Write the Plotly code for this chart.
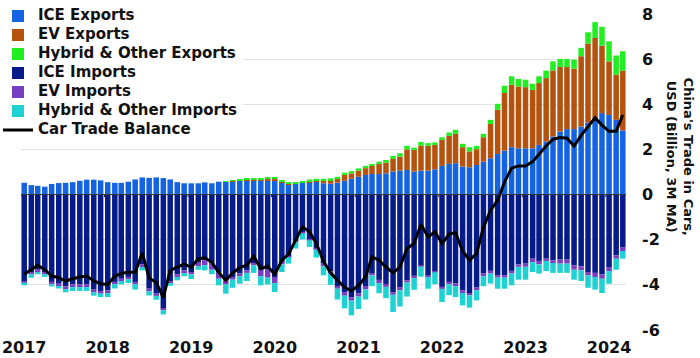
import pandas as pd
import plotly.graph_objects as go

months = [d.strftime("%Y-%m-15") for d in pd.date_range("2017-01-01", "2024-03-01", freq="MS")]

ice_exports = [0.52, 0.42, 0.39, 0.35, 0.47, 0.51, 0.52, 0.55, 0.61, 0.66, 0.66, 0.63,
               0.55, 0.52, 0.52, 0.57, 0.67, 0.76, 0.74, 0.76, 0.73, 0.67, 0.55, 0.50,
               0.50, 0.50, 0.54, 0.50, 0.57, 0.56, 0.60, 0.63, 0.64, 0.64, 0.63, 0.64,
               0.63, 0.54, 0.46, 0.47, 0.52, 0.55, 0.56, 0.50, 0.48, 0.53, 0.61, 0.70,
               0.79, 0.87, 0.91, 0.91, 0.94, 1.02, 1.06, 1.09, 1.02, 1.06, 1.06, 1.12,
               1.27, 1.36, 1.39, 1.24, 1.21, 1.31, 1.46, 1.61, 1.80, 1.95, 2.10, 2.05,
               2.05, 2.05, 2.20, 2.35, 2.57, 2.79, 2.90, 2.90, 3.01, 3.19, 3.39, 3.61,
               3.53, 3.31, 2.84]
ev_exports = [0.0] * 29 + [0.00, 0.01, 0.01, 0.02, 0.02, 0.03, 0.05,
              0.06, 0.05, 0.03, 0.02, 0.03, 0.05, 0.07, 0.12, 0.16, 0.16, 0.26, 0.24,
              0.27, 0.30, 0.36, 0.45, 0.47, 0.56, 0.62, 0.91, 0.96, 1.11, 1.10, 1.08,
              1.15, 1.24, 1.30, 0.86, 0.70, 0.70, 1.08, 1.52, 1.96, 2.55, 2.77, 2.74,
              2.71, 2.59, 2.74, 2.81, 2.93, 2.86, 2.75, 2.68, 3.12, 3.50, 3.55, 2.99,
              2.37, 2.00, 2.65]
hybrid_exports = [0.0] * 29 + [0.01, 0.03, 0.05, 0.06, 0.06, 0.06, 0.06,
                  0.06, 0.05, 0.04, 0.04, 0.05, 0.07, 0.07, 0.08, 0.08, 0.10, 0.10, 0.10,
                  0.10, 0.10, 0.07, 0.10, 0.12, 0.13, 0.15, 0.16, 0.10, 0.16, 0.12, 0.11,
                  0.12, 0.15, 0.18, 0.15, 0.19, 0.15, 0.15, 0.18, 0.26, 0.32, 0.37, 0.33,
                  0.33, 0.27, 0.30, 0.33, 0.40, 0.36, 0.36, 0.40, 0.37, 0.50, 0.70, 0.83,
                  0.89, 0.85, 0.86]
ice_imports = [-3.87, -3.47, -3.33, -3.43, -3.87, -3.95, -4.07, -3.98, -3.98, -3.98, -4.21, -4.27,
               -4.24, -3.87, -3.73, -3.65, -3.87, -3.09, -4.17, -4.39, -5.06, -3.83, -3.53, -3.36,
               -3.43, -2.99, -2.91, -3.06, -3.43, -3.80, -3.65, -3.50, -3.36, -3.03, -3.33, -3.33,
               -3.65, -2.99, -2.75, -2.07, -1.70, -2.00, -2.41, -3.06, -3.40, -4.05, -4.32, -4.55,
               -4.38, -4.05, -3.50, -3.78, -3.96, -4.34, -4.10, -3.80, -3.60, -3.15, -3.60, -3.40,
               -4.09, -3.87, -3.94, -4.24, -4.36, -4.12, -3.50, -3.38, -3.57, -3.57, -3.38, -3.09,
               -3.06, -2.84, -2.94, -2.84, -2.91, -2.88, -2.88, -3.13, -3.18, -3.43, -3.47, -3.53,
               -3.21, -2.69, -2.35]
ev_imports = [-0.03, -0.06, -0.10, -0.10, -0.10, -0.10, -0.12, -0.12, -0.12, -0.12, -0.12, -0.12,
              -0.12, -0.10, -0.10, -0.10, -0.10, -0.12, -0.12, -0.10, -0.07, -0.09, -0.12, -0.12,
              -0.10, -0.19, -0.22, -0.27, -0.30, -0.18, -0.12, -0.12, -0.11, -0.10, -0.29, -0.35,
              -0.27, -0.10, -0.03, -0.02, -0.02, -0.02, -0.03, -0.12, -0.10, -0.12, -0.16, -0.15,
              -0.14, -0.15, -0.08, -0.14, -0.13, -0.10, -0.14, -0.10, -0.10, -0.04, -0.05, -0.04,
              -0.09, -0.10, -0.12, -0.12, -0.10, -0.12, -0.12, -0.12, -0.11, -0.11, -0.12, -0.11,
              -0.14, -0.15, -0.15, -0.10, -0.12, -0.18, -0.18, -0.20, -0.18, -0.15, -0.18, -0.20,
              -0.18, -0.15, -0.15]
hybrid_imports = [-0.12, -0.15, -0.10, -0.12, -0.10, -0.11, -0.14, -0.17, -0.17, -0.17, -0.15, -0.15,
                  -0.18, -0.19, -0.15, -0.17, -0.24, -0.15, -0.18, -0.17, -0.18, -0.12, -0.15, -0.14,
                  -0.21, -0.15, -0.23, -0.20, -0.29, -0.41, -0.36, -0.33, -0.36, -0.34, -0.40, -0.30,
                  -0.40, -0.34, -0.28, -0.30, -0.27, -0.30, -0.35, -0.40, -0.50, -0.48, -0.56, -0.65,
                  -0.55, -0.45, -0.48, -0.45, -0.50, -0.76, -0.72, -0.62, -0.52, -0.45, -0.52, -0.53,
                  -0.58, -0.49, -0.48, -0.55, -0.55, -0.45, -0.44, -0.44, -0.49, -0.49, -0.52, -0.57,
                  -0.57, -0.44, -0.41, -0.45, -0.44, -0.41, -0.41, -0.44, -0.47, -0.55, -0.56, -0.63,
                  -0.56, -0.49, -0.34]
trade_balance = [-3.53, -3.33, -3.13, -3.33, -3.61, -3.68, -3.83, -3.73, -3.65, -3.61, -3.83, -3.95,
                 -3.98, -3.61, -3.50, -3.43, -3.45, -2.58, -3.70, -3.90, -4.56, -3.36, -3.22, -3.08,
                 -3.22, -2.84, -2.80, -3.00, -3.45, -3.80, -3.47, -3.24, -3.13, -2.73, -3.28, -3.18,
                 -3.53, -2.91, -2.64, -2.02, -1.43, -1.65, -2.17, -2.95, -3.47, -3.80, -4.10, -4.27,
                 -4.02, -3.65, -2.76, -2.91, -3.21, -3.47, -3.21, -2.39, -2.17, -1.31, -1.88, -1.65,
                 -2.17, -1.75, -1.69, -2.50, -2.91, -2.61, -1.45, -0.70, -0.25, 0.55, 1.17, 1.27,
                 1.27, 1.46, 1.80, 2.15, 2.45, 2.53, 2.50, 2.15, 2.62, 3.03, 3.40, 3.08,
                 2.80, 2.80, 3.53]

year_ticks = [f"{y}-01-15" for y in range(2017, 2025)]
year_labels = [str(y) for y in range(2017, 2025)]
y_ticks = [8, 6, 4, 2, 0, -2, -4, -6]
y_labels = ["8", "6", "4", "2", "0", "-2", "-4", "-6"]

FONT = "DejaVu Sans"


def lg(name):
    return f'<span style="font-size:15px">{name}</span>'


fig = go.Figure()
bar_series = [
    ("ICE Exports", ice_exports, "#1463E3"),
    ("EV Exports", ev_exports, "#B4520E"),
    ("Hybrid & Other Exports", hybrid_exports, "#1FEE1F"),
    ("ICE Imports", ice_imports, "#061A8A"),
    ("EV Imports", ev_imports, "#7A3EC2"),
    ("Hybrid & Other Imports", hybrid_imports, "#1FD2D2"),
]
for name, vals, col in bar_series:
    fig.add_trace(go.Bar(x=months, y=vals, name=lg(name), marker=dict(color=col, line=dict(width=0))))

fig.add_trace(go.Scatter(x=months, y=trade_balance, name=lg("Car Trade Balance"), mode="lines",
                         line=dict(color="#000000", width=3)))

shapes = [dict(type="line", xref="paper", x0=0, x1=1, yref="y", y0=0, y1=0,
               line=dict(color="#333333", width=1), layer="above")]
for y in range(2017, 2025):
    shapes.append(dict(type="line", xref="x", x0=f"{y}-01-01", x1=f"{y}-01-01", yref="y", y0=0, y1=-0.12,
                       line=dict(color="#333333", width=1), layer="above"))

fig.update_layout(
    width=700, height=358,
    margin=dict(l=21, r=74, t=14, b=28, autoexpand=False),
    paper_bgcolor="white", plot_bgcolor="white",
    barmode="relative", bargap=0.14,
    font=dict(family=FONT, color="#111111", weight="bold"),
    showlegend=True,
    legend=dict(x=-0.038, xref="paper", y=1.0395, yref="paper", xanchor="left", yanchor="top",
                bgcolor="white", borderwidth=0, traceorder="normal",
                font=dict(family=FONT, size=10, color="#111111", weight="bold")),
    xaxis=dict(type="date", range=["2017-01-01", "2024-03-29"], tickvals=year_ticks, ticktext=year_labels,
               showgrid=False, zeroline=False, showline=False, ticks="", ticklabelstandoff=6,
               tickfont=dict(family=FONT, size=16, color="#111111", weight="bold")),
    yaxis=dict(side="right", range=[-6, 8], tickvals=y_ticks, ticktext=y_labels,
               showgrid=True, gridcolor="#e3e3e3", gridwidth=1, zeroline=False, showline=False,
               ticks="", ticklabelstandoff=15,
               tickfont=dict(family=FONT, size=16, color="#111111", weight="bold")),
    shapes=shapes,
    annotations=[dict(text="China's Trade in Cars,<br>USD (Billion, 3M MA)", textangle=90,
                      xref="paper", yref="paper", x=1.0886, y=0.55, xanchor="center", yanchor="middle",
                      showarrow=False, font=dict(family=FONT, size=13, color="#111111", weight="bold"))],
)

fig.write_html("out.html", config={"displayModeBar": False},
               post_script="document.body.style.margin='0px';")
